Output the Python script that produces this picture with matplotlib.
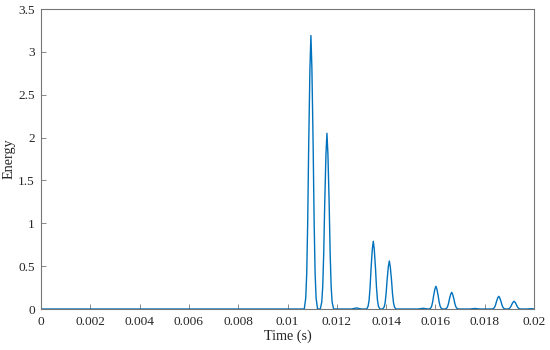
import numpy as np
import matplotlib.pyplot as plt
from matplotlib.ticker import FuncFormatter

# peak centres (s) and heights
peak_times = [0.01095, 0.0116, 0.01348, 0.01413, 0.01602, 0.01666, 0.01857, 0.01919]
peak_heights = [3.19, 2.05, 0.79, 0.56, 0.265, 0.195, 0.148, 0.09]

# shape of one peak, read from the tallest one (offset in s, fraction of height)
shape_offsets = [-0.00027, -0.00021, -0.00017, -0.00013, -0.00009, -0.00004, 0.0,
                 0.00004, 0.00009, 0.00013, 0.00017, 0.00021, 0.00027]
shape_levels = [0.0, 0.04, 0.13, 0.32, 0.6, 0.88, 1.0, 0.88, 0.6, 0.32, 0.13, 0.04, 0.0]

# tiny ripples between the pairs
ripple_times = [0.0128, 0.0155, 0.0176, 0.0199]
ripple_heights = [0.012, 0.008, 0.006, 0.004]

t = [0.0]
e = [0.0]
for c, h in zip(peak_times, peak_heights):
    for o, lv in zip(shape_offsets, shape_levels):
        t.append(c + o)
        e.append(h * lv)
for c, h in zip(ripple_times, ripple_heights):
    t += [c - 0.0002, c, c + 0.0002]
    e += [0.0, h, 0.0]
t.append(0.02)
e.append(0.0)
order = np.argsort(t)
t = np.array(t)[order]
e = np.array(e)[order]

plt.rcParams['font.family'] = ['Liberation Serif', 'DejaVu Serif']

fig = plt.figure(figsize=(5.5, 3.5), dpi=100)
ax = fig.add_axes([41 / 550, 41 / 350, 493 / 550, 300 / 350])
ax.plot(t, e, color='#0072BD', linewidth=1.0)

ax.set_xlim(0, 0.02)
ax.set_ylim(0, 3.5)
ax.set_xticks(np.arange(0, 0.0201, 0.002))
ax.set_yticks(np.arange(0, 3.51, 0.5))
ax.xaxis.set_major_formatter(FuncFormatter(lambda v, p: '%g' % round(v, 4)))
ax.yaxis.set_major_formatter(FuncFormatter(lambda v, p: '%g' % v))
ax.tick_params(direction='in', length=3.5, width=0.6, labelsize=9.6,
               color='#777777', labelcolor='#262626', top=False, right=False)
ax.tick_params(axis='x', pad=5)
ax.tick_params(axis='y', pad=4.5)
for s in ax.spines.values():
    s.set_color('#777777')
    s.set_linewidth(0.8)

ax.set_xlabel('Time (s)', fontsize=10.2, color='#262626', labelpad=1)
ax.set_ylabel('Energy', fontsize=10.2, color='#262626', labelpad=2)

fig.savefig('out.png', dpi=100)
